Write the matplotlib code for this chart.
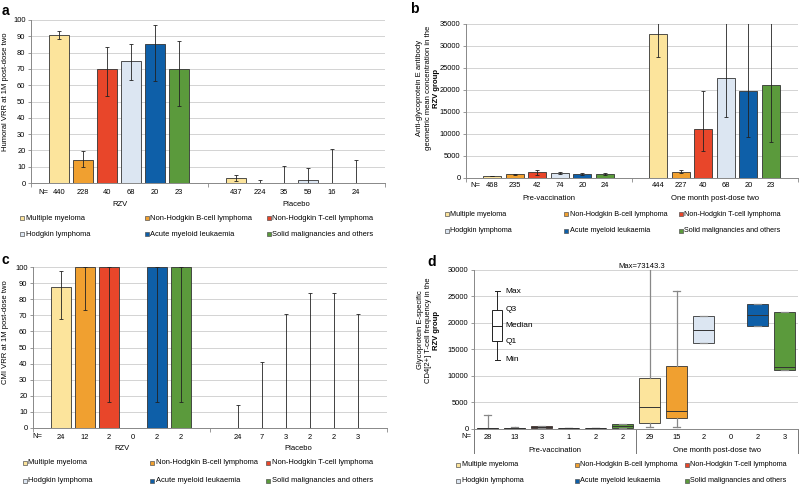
import numpy as np
import matplotlib
matplotlib.use('Agg')
import matplotlib.pyplot as plt
from matplotlib.patches import Rectangle

plt.rcParams['font.family'] = ['Liberation Sans', 'DejaVu Sans']
plt.rcParams['font.size'] = 5.3

W, H = 800, 487

categories = ['Multiple myeloma', 'Non-Hodgkin B-cell lymphoma', 'Non-Hodgkin T-cell lymphoma',
              'Hodgkin lymphoma', 'Acute myeloid leukaemia', 'Solid malignancies and others']
colors = ['#FCE49C', '#F0A030', '#E8462A', '#DCE6F2', '#0E5FA8', '#5B9A3C']
EDGE = '#333333'

# panel a: humoral VRR (%)
a_groups = ['RZV', 'Placebo']
a_n = [[440, 228, 40, 68, 20, 23], [437, 224, 35, 59, 16, 24]]
a_val = [[91, 14, 70, 75, 85, 70], [3.2, 0, 0, 2, 0, 0]]
a_lo = [[88.1, 9.8, 53.5, 62.9, 62.5, 47], [1.4, 0, 0, 0, 0, 0]]
a_hi = [[93.2, 19.5, 83.6, 85, 97, 87], [5.1, 1.6, 10.2, 9.2, 20.7, 14.3]]

# panel b: anti-gE GMC
b_groups = ['Pre-vaccination', 'One month post-dose two']
b_n = [[468, 235, 42, 74, 20, 24], [444, 227, 40, 68, 20, 23]]
b_val = [[460, 900, 1300, 1140, 900, 900], [32650, 1450, 11040, 22680, 19710, 21080]]
b_lo = [[400, 750, 760, 840, 680, 600], [27550, 1140, 6240, 13780, 9360, 8220]]
b_hi = [[520, 1000, 1750, 1450, 1140, 1200], [40000, 1750, 19860, 40000, 40000, 40000]]

# panel c: CMI VRR (%)
c_groups = ['RZV', 'Placebo']
c_n = [[24, 12, 2, 0, 2, 2], [24, 7, 3, 2, 2, 3]]
c_val = [[87.4, 100, 100, 0, 100, 100], [0, 0, 0, 0, 0, 0]]
c_lo = [[67.6, 73.6, 15.9, 0, 15.9, 15.9], [0, 0, 0, 0, 0, 0]]
c_hi = [[97.3, 100, 100, 0, 100, 100], [14.3, 40.9, 70.7, 84.1, 84.1, 70.7]]

# panel d: gE-specific CD4[2+] T-cell frequency (min, q1, median, q3, max)
d_groups = ['Pre-vaccination', 'One month post-dose two']
d_n = [[28, 13, 3, 1, 2, 2], [29, 15, 2, 0, 2, 3]]
d_col = [[0, 1, 2, 3, 4, 5], [0, 1, 3, 2, 4, 5]]
d_min = [[0, 0, 100, 80, 50, 150], [300, 300, 16130, 0, 19340, 11090]]
d_q1 = [[20, 30, 150, 80, 80, 200], [1070, 2020, 16130, 0, 19340, 11090]]
d_med = [[80, 80, 350, 100, 120, 500], [4100, 3280, 18710, 0, 21420, 11660]]
d_q3 = [[200, 150, 600, 120, 200, 900], [9580, 11780, 21230, 0, 23500, 21990]]
d_max = [[2500, 380, 600, 120, 200, 900], [73143.3, 26020, 21230, 0, 23500, 21990]]
key_stats = [13000, 16500, 19500, 22500, 26000]
key_labels = ['Min', 'Q1', 'Median', 'Q3', 'Max']

fig = plt.figure(figsize=(8, 4.87), dpi=100)


def px_axes(left, top, right, bottom):
    return fig.add_axes([left / W, 1 - bottom / H, (right - left) / W, (bottom - top) / H])


def style_axes(ax, ylim, yticks, npad):
    ax.set_ylim(*ylim)
    ax.set_yticks(yticks)
    ax.yaxis.grid(True, color='#CCCCCC', lw=0.6)
    ax.set_axisbelow(True)
    for s in ['top', 'right']:
        ax.spines[s].set_visible(False)
    for s in ['left', 'bottom']:
        ax.spines[s].set_color('#888888')
        ax.spines[s].set_linewidth(0.7)
    ax.tick_params(axis='y', length=2, width=0.6, color='#888888', pad=2, labelsize=5.4)
    ax.tick_params(axis='x', which='major', length=0, pad=npad, labelsize=5.4)
    ax.tick_params(axis='x', which='minor', length=3, width=0.6, color='#888888')


def below(ax, x, text, dy_px):
    ax.annotate(text, xy=(x, 0), xycoords=('data', 'axes fraction'),
                xytext=(0, -dy_px * 0.72), textcoords='offset points',
                ha='center', va='center', fontsize=5.5)


def bar_panel(ax, n, val, lo, hi, groups, nx, ny):
    xs, labels = [], []
    for g in range(2):
        for i in range(6):
            x = g * 7.375 + 1.17 + i
            xs.append(x)
            labels.append(str(n[g][i]))
            if n[g][i] == 0:
                continue
            v = val[g][i]
            ax.bar(x, v, width=0.8, color=colors[i], edgecolor=EDGE, lw=0.6)
            ax.errorbar(x, v, yerr=[[v - lo[g][i]], [hi[g][i] - v]], fmt='none',
                        ecolor='#222222', elinewidth=0.6, capsize=1.5, capthick=0.6)
    ax.set_xticks(xs, labels)
    ax.set_xticks([0, 7.375, 14.75], minor=True)
    ax.set_xlim(0, 14.75)
    below(ax, nx, 'N=', ny)
    for g in range(2):
        below(ax, g * 7.375 + 3.69, groups[g], 21)


def legend(xs, ys, fs=5.4):
    for k, lab in enumerate(categories):
        x = xs[k % 3]
        y = ys[k // 3]
        fig.add_artist(Rectangle(((x - 2) / W, 1 - (y + 2) / H), 4 / W, 4 / H,
                                 transform=fig.transFigure, facecolor=colors[k],
                                 edgecolor='#555555', lw=0.5))
        fig.text((x + 3.5) / W, 1 - y / H, lab, ha='left', va='center', fontsize=fs)


# ---- a
axa = px_axes(31, 20, 385, 183)
style_axes(axa, (0, 100), np.arange(0, 101, 10), 4)
bar_panel(axa, a_n, a_val, a_lo, a_hi, a_groups, 0.5, 9.5)
legend([22, 147, 269], [218, 234])
fig.text(6 / W, 1 - 92 / H, 'Humoral VRR at 1M post-dose two', rotation=90,
         ha='center', va='center', fontsize=5.5)
fig.text(2 / W, 1 - 11 / H, 'a', fontsize=10, fontweight='bold', va='center')

# ---- b
axb = px_axes(466, 24, 798, 178)
style_axes(axb, (0, 35000), np.arange(0, 35001, 5000), 3)
bar_panel(axb, b_n, b_val, b_lo, b_hi, b_groups, 0.4, 7.5)
legend([447, 566, 681], [214, 231], 5.2)
for x, t, w in [(419, 'Anti-glycoprotein E antibody', 'normal'),
                (428, 'geometric mean concentration in the', 'normal'),
                (437, 'RZV group', 'bold')]:
    fig.text(x / W, 1 - 88 / H, t, rotation=90, ha='center', va='center',
             fontsize=5.5, fontweight=w)
fig.text(410 / W, 1 - 9 / H, 'b', fontsize=10, fontweight='bold', va='center')

# ---- c
axc = px_axes(33, 267, 387, 428)
style_axes(axc, (0, 100), np.arange(0, 101, 10), 4)
bar_panel(axc, c_n, c_val, c_lo, c_hi, c_groups, 0.2, 8.5)
legend([25, 152, 268], [463, 481])
fig.text(6 / W, 1 - 332 / H, 'CMI VRR at 1M post-dose two', rotation=90,
         ha='center', va='center', fontsize=5.5)
fig.text(2 / W, 1 - 260 / H, 'c', fontsize=10, fontweight='bold', va='center')

# ---- d
axd = px_axes(474, 270, 798, 428.7)
style_axes(axd, (0, 30000), np.arange(0, 30001, 5000), 4)
stats, pos, fcs = [], [], []
xs, labels = [], []
for g in range(2):
    for i in range(6):
        x = g * 6 + i + 0.5
        xs.append(x)
        labels.append(str(d_n[g][i]))
        if d_n[g][i] == 0:
            continue
        stats.append(dict(whislo=d_min[g][i], q1=d_q1[g][i], med=d_med[g][i],
                          q3=d_q3[g][i], whishi=d_max[g][i], fliers=[]))
        pos.append(x)
        fcs.append(colors[d_col[g][i]])
bp = axd.bxp(stats, positions=pos, widths=0.75, patch_artist=True, showfliers=False,
             manage_ticks=False, capwidths=0.25,
             boxprops=dict(edgecolor=EDGE, lw=0.6),
             whiskerprops=dict(color='#888888', lw=0.9),
             capprops=dict(color='#888888', lw=0.9),
             medianprops=dict(color=EDGE, lw=0.7))
for patch, c in zip(bp['boxes'], fcs):
    patch.set_facecolor(c)

# key box
ks = [dict(whislo=key_stats[0], q1=key_stats[1], med=key_stats[2], q3=key_stats[3],
           whishi=key_stats[4], fliers=[])]
kb = axd.bxp(ks, positions=[0.87], widths=0.37, patch_artist=True, showfliers=False,
             manage_ticks=False, capwidths=0.22,
             boxprops=dict(edgecolor='#222222', facecolor='white', lw=0.7),
             whiskerprops=dict(color='#222222', lw=0.7),
             capprops=dict(color='#222222', lw=0.7),
             medianprops=dict(color='#222222', lw=0.7))
for v, t in zip(key_stats, key_labels):
    axd.text(1.18, v, t, ha='left', va='center', fontsize=6)

axd.text(6.2, 30000, 'Max=73143.3', ha='center', va='bottom', fontsize=5.5)
axd.set_xticks(xs, labels)
axd.set_xlim(0, 12)
for x in [0, 6, 12]:
    axd.plot([x, x], [0, -0.155], transform=axd.get_xaxis_transform(), clip_on=False,
             color='#777777', lw=0.7)
below(axd, -0.3, 'N=', 8.3)
for g in range(2):
    below(axd, g * 6 + 3, d_groups[g], 21.3)
legend([458, 577, 687], [465, 481], 5.2)
for x, t, w in [(420, 'Glycoprotein E-specific', 'normal'),
                (428, 'CD4[2+] T-cell frequency in the', 'normal'),
                (437, 'RZV group', 'bold')]:
    fig.text(x / W, 1 - 330 / H, t, rotation=90, ha='center', va='center',
             fontsize=5.5, fontweight=w)
fig.text(427 / W, 1 - 262 / H, 'd', fontsize=10, fontweight='bold', va='center')

fig.savefig('out.png', dpi=100)
